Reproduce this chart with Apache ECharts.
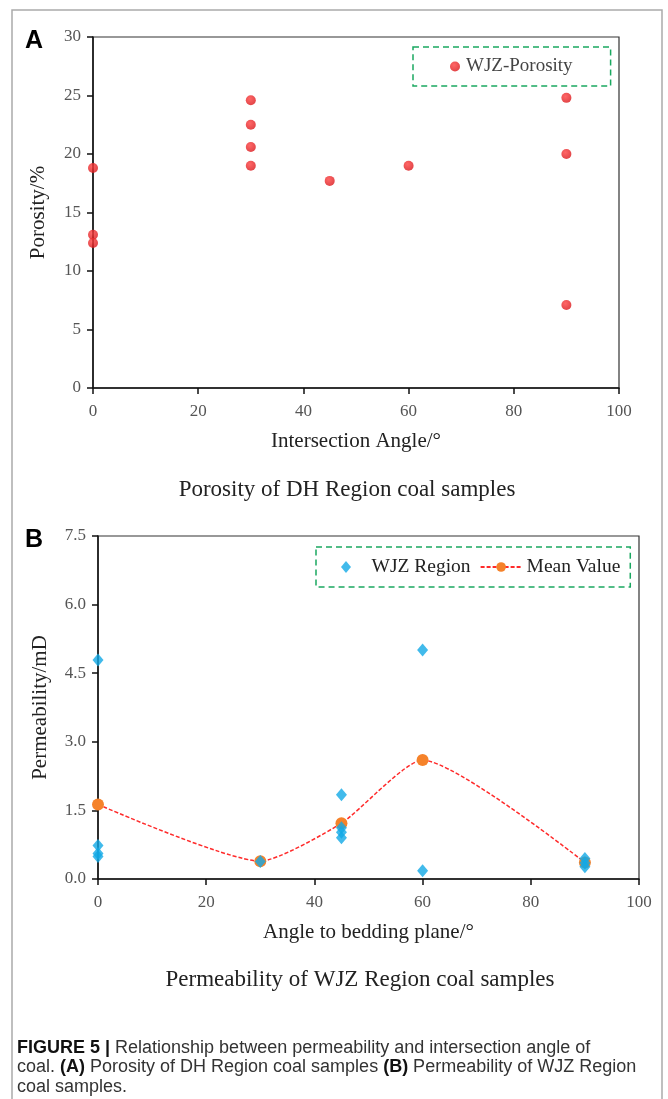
<!DOCTYPE html>
<html>
<head>
<meta charset="utf-8">
<script src="https://cdn.jsdelivr.net/npm/echarts@6/dist/echarts.min.js"></script>
<style>
  html, body { margin: 0; padding: 0; background: #fff; }
  #main { width: 668px; height: 1099px; }
</style>
</head>
<body>
<div id="main"></div>
<script>
// panel A - porosity of DH region
const porosityAngle = [0, 0, 0, 30, 30, 30, 30, 45, 60, 90, 90, 90];
const porosityValue = [18.8, 13.1, 12.4, 24.6, 22.5, 20.6, 19.0, 17.7, 19.0, 24.8, 20.0, 7.1];
const porosityTicks = [0, 5, 10, 15, 20, 25, 30];

// panel B - permeability of WJZ region
const wjzAngle = [0, 0, 0, 0, 30, 45, 45, 45, 45, 60, 60, 90, 90, 90];
const wjzPerm = [4.79, 0.73, 0.56, 0.49, 0.38, 1.84, 1.12, 1.02, 0.90, 5.01, 0.18, 0.45, 0.35, 0.27];
const meanAngle = [0, 30, 45, 60, 90];
const meanPerm = [1.63, 0.39, 1.22, 2.60, 0.36];
const permTicks = [0, 1.5, 3.0, 4.5, 6.0, 7.5];

const angleTicks = [0, 20, 40, 60, 80, 100];

const serif = "'Liberation Serif', 'Times New Roman', serif";
const sans = "'Liberation Sans', Arial, sans-serif";
const green = "#1aa860";

let chart = echarts.init(document.getElementById("main"));

let xAxisBase = (gridIndex, name) => ({
  type: "value",
  gridIndex: gridIndex,
  min: angleTicks[0],
  max: angleTicks[angleTicks.length - 1],
  interval: angleTicks[1] - angleTicks[0],
  name: name,
  nameLocation: "middle",
  nameGap: 43,
  nameTextStyle: { fontFamily: serif, fontSize: 21, color: "#222" },
  axisLine: { show: true, onZero: false, lineStyle: { color: "#111", width: 1.5 } },
  axisTick: { show: true, length: 6, lineStyle: { color: "#111", width: 1.5 } },
  axisLabel: { margin: 15, fontFamily: serif, fontSize: 17, color: "#555" },
  splitLine: { show: false },
});

let yAxisBase = (gridIndex, ticks, name, gap, digits) => ({
  type: "value",
  gridIndex: gridIndex,
  min: ticks[0],
  max: ticks[ticks.length - 1],
  interval: ticks[1] - ticks[0],
  name: name,
  nameLocation: "middle",
  nameGap: gap,
  nameTextStyle: { fontFamily: serif, fontSize: 21, color: "#222" },
  axisLine: { show: true, onZero: false, lineStyle: { color: "#111", width: 1.5 } },
  axisTick: { show: true, length: 6, lineStyle: { color: "#111", width: 1.5 } },
  axisLabel: {
    margin: 12,
    fontFamily: serif,
    fontSize: 17,
    color: "#555",
    formatter: (v) => v.toFixed(digits),
  },
  splitLine: { show: false },
});

let redDot = new echarts.graphic.RadialGradient(0.4, 0.35, 0.7, [
  { offset: 0, color: "#ff4040" },
  { offset: 1, color: "#d81418" },
]);

let option = {
  animation: false,
  grid: [
    { left: 93, top: 37, right: 49, bottom: 711, show: true, borderColor: "#333", borderWidth: 1.2 },
    { left: 98, top: 536, right: 29, bottom: 220, show: true, borderColor: "#333", borderWidth: 1.2 },
  ],
  xAxis: [xAxisBase(0, "Intersection Angle/°"), xAxisBase(1, "Angle to bedding plane/°")],
  yAxis: [
    yAxisBase(0, porosityTicks, "Porosity/%", 44, 0),
    yAxisBase(1, permTicks, "Permeability/mD", 47, 1),
  ],
  legend: [
    {
      data: ["WJZ-Porosity"],
      left: 413,
      top: 47,
      itemWidth: 12,
      itemHeight: 10,
      itemGap: 7,
      padding: [10, 38, 10, 37],
      borderColor: green,
      borderWidth: 1.5,
      borderType: [6, 4],
      textStyle: { fontFamily: serif, fontSize: 19, color: "#444" },
    },
    {
      data: [
        { name: "WJZ Region", icon: "path://M5,0L10,6L5,12L0,6Z" },
        { name: "Mean Value" },
      ],
      left: 316,
      top: 547,
      itemWidth: 41,
      itemHeight: 12,
      itemGap: 9,
      symbolKeepAspect: true,
      padding: [10, 10, 10, 25],
      borderColor: green,
      borderWidth: 1.5,
      borderType: [6, 4],
      textStyle: { fontFamily: serif, fontSize: 19.5, color: "#222" },
    },
  ],
  series: [
    {
      name: "WJZ-Porosity",
      type: "scatter",
      xAxisIndex: 0,
      yAxisIndex: 0,
      symbol: "circle",
      symbolSize: 10,
      itemStyle: { color: redDot },
      data: porosityAngle.map((a, i) => [a, porosityValue[i]]),
    },
    {
      name: "Mean Value",
      type: "line",
      xAxisIndex: 1,
      yAxisIndex: 1,
      z: 2,
      smooth: 0.2,
      symbol: "circle",
      symbolSize: 12,
      itemStyle: { color: "#f5822a" },
      lineStyle: { color: "#ff2a2a", width: 1.5, type: [4, 2] },
      data: meanAngle.map((a, i) => [a, meanPerm[i]]),
    },
    {
      name: "WJZ Region",
      type: "scatter",
      xAxisIndex: 1,
      yAxisIndex: 1,
      z: 3,
      symbol: "diamond",
      symbolSize: [11, 13],
      itemStyle: { color: "#12a9e6" },
      data: wjzAngle.map((a, i) => [a, wjzPerm[i]]),
    },
  ],
  graphic: [
    {
      type: "rect",
      silent: true,
      shape: { x: 12, y: 10, width: 650, height: 1200 },
      style: { fill: "none", stroke: "#aaa", lineWidth: 1.5 },
    },
    {
      type: "text",
      x: 25, y: 41,
      style: { text: "A", font: "bold 25px " + sans, fill: "#000", verticalAlign: "middle", textVerticalAlign: "middle" },
    },
    {
      type: "text",
      x: 25, y: 540,
      style: { text: "B", font: "bold 25px " + sans, fill: "#000", verticalAlign: "middle", textVerticalAlign: "middle" },
    },
    {
      type: "text",
      x: 347, y: 490,
      style: {
        text: "Porosity of DH Region coal samples",
        font: "23px " + serif, fill: "#222",
        align: "center", textAlign: "center", verticalAlign: "middle", textVerticalAlign: "middle",
      },
    },
    {
      type: "text",
      x: 360, y: 980,
      style: {
        text: "Permeability of WJZ Region coal samples",
        font: "23px " + serif, fill: "#222",
        align: "center", textAlign: "center", verticalAlign: "middle", textVerticalAlign: "middle",
      },
    },
    {
      type: "text",
      x: 17, y: 1038,
      style: {
        text:
          "{b|FIGURE 5 |} Relationship between permeability and intersection angle of\n" +
          "coal. {b|(A)} Porosity of DH Region coal samples {b|(B)} Permeability of WJZ Region\n" +
          "coal samples.",
        font: "18px " + sans,
        fill: "#333",
        lineHeight: 19.5,
        rich: {
          b: { fontFamily: sans, fontSize: 18, fontWeight: "bold", fill: "#111", color: "#111", lineHeight: 19.5 },
        },
      },
    },
  ],
};
chart.setOption(option);
</script>
</body>
</html>
